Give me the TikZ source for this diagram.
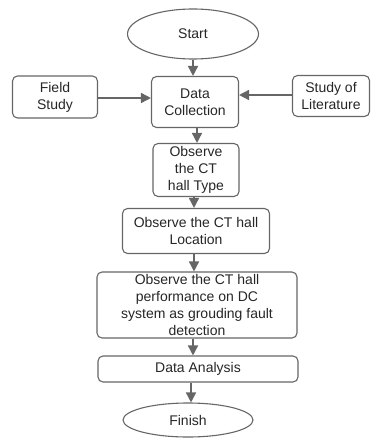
\documentclass[tikz,border=0pt]{standalone}
\usepackage{fontspec}
\setmainfont{Liberation Sans}
\usetikzlibrary{shapes.geometric,arrows.meta}
\definecolor{linegray}{HTML}{666666}
\definecolor{textgray}{HTML}{262626}

\begin{document}
\begin{tikzpicture}[x=1pt,y=-1pt,
			every node/.style = {align=center, text=textgray,
				font=\fontsize{14}{17}\selectfont},
			box/.style = {shape=rectangle, draw=linegray, line width=1.1pt,
				rounded corners=5pt, inner sep=0pt},
			oval/.style = {shape=ellipse, draw=linegray, line width=1.1pt,
				inner sep=0pt},
			flow/.style = {draw=linegray, line width=1.6pt,
				-{Triangle[length=10pt,width=10pt]}}]
			\useasboundingbox (0,0) rectangle (371,438);
			\node[oval, minimum width=131, minimum height=50] (start) at (193,34) {Start};
			\node[box, minimum width=87, minimum height=51] (collect) at (195,102) {Data\\Collection};
			\node[box, minimum width=85, minimum height=42] (field) at (55,97) {Field\\Study};
			\node[box, minimum width=77, minimum height=41] (lit) at (331,96) {Study of\\Literature};
			\node[box, minimum width=86, minimum height=53] (type) at (196,170) {Observe\\the CT\\hall Type};
			\node[box, minimum width=147, minimum height=45] (loc) at (196,231) {Observe the CT hall\\Location};
			\node[box, minimum width=200, minimum height=66] (perf) at (197,305)
				{Observe the CT hall\\performance on DC\\system as grouding fault\\detection};
			\node[box, minimum width=200, minimum height=26] (anal) at (198,369) {Data Analysis};
			\node[oval, minimum width=130, minimum height=34] (finish) at (188,420) {Finish};

			\draw[flow] (start.south) -- (start.south |- collect.north);
			\draw[flow] (field.east |- 0,98) -- (collect.west |- 0,98);
			\draw[flow] (lit.west |- 0,95) -- (collect.east |- 0,95);
			\draw[flow] (collect.south -| 197,0) -- (type.north -| 197,0);
			\draw[flow] (type.south -| 194,0) -- (loc.north -| 194,0);
			\draw[flow] (loc.south -| 194,0) -- (perf.north -| 194,0);
			\draw[flow] (perf.south -| 193,0) -- (anal.north -| 193,0);
			\draw[flow] (anal.south -| 191,0) -- (finish.north -| 191,0);
		\end{tikzpicture}
\end{document}
